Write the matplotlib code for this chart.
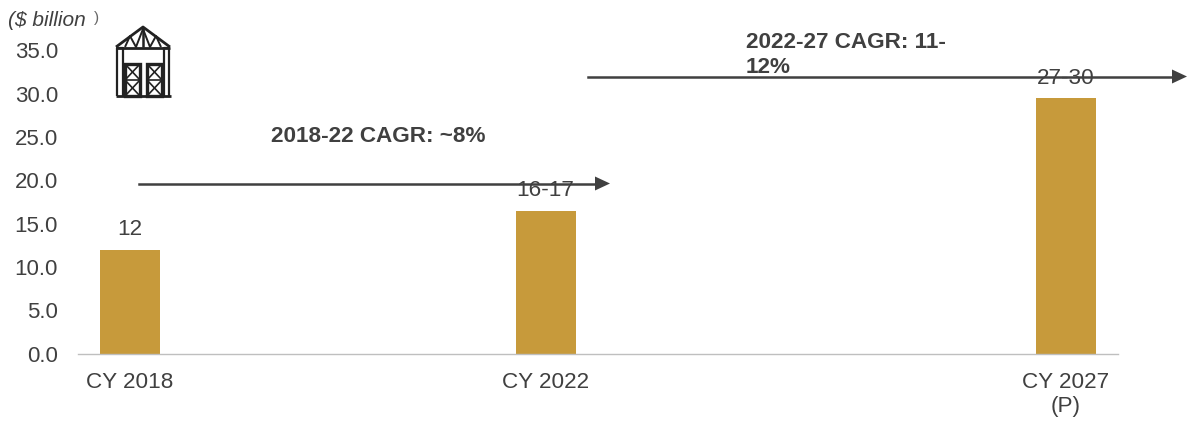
import matplotlib
matplotlib.use('Agg')
import matplotlib.pyplot as plt
from matplotlib.patches import Rectangle

plt.rcParams['font.family'] = ['Liberation Sans', 'DejaVu Sans']

W, H = 1188, 421
years = [2018, 2022, 2027]
values = [11.9, 16.5, 29.5]
bar_labels = ['12', '16-17', '27-30']
cat_labels = ['CY 2018', 'CY 2022', 'CY 2027\n(P)']
yticks = [0, 5, 10, 15, 20, 25, 30, 35]
dark = '#404040'
gold = '#C79A3B'


def fx(x):
    return x / W


def fy(y):
    return 1 - y / H


fig = plt.figure(figsize=(W / 100, H / 100), dpi=100)
ax = fig.add_axes([fx(78), fy(353.5), fx(1118 - 78), (353.5 - 50.5) / H])
ax.bar(years, values, width=0.585, color=gold)
ax.set_xlim(2017.5, 2027.5)
ax.set_ylim(0, 35)
ax.set_xticks(years)
ax.set_xticklabels(cat_labels, fontsize=16.2, color=dark, linespacing=1.22)
ax.set_yticks(yticks)
ax.set_yticklabels(['%.1f' % t for t in yticks], fontsize=16, color=dark)
ax.tick_params(axis='x', length=0, pad=13)
ax.tick_params(axis='y', length=0, pad=14.4)
for s in ['top', 'right', 'left']:
    ax.spines[s].set_visible(False)
ax.spines['bottom'].set_color('#BFBFBF')
ax.spines['bottom'].set_linewidth(1)
ax.patch.set_alpha(0)

# value labels, the arrows run through two of them
for px, py, lab in zip([129.5, 545.5, 1065.5], [229, 191, 78], bar_labels):
    fig.text(fx(px), fy(py), lab, ha='center', va='center', fontsize=16.2, color=dark)


def arrow(x0, x1, y):
    fig.add_artist(plt.Line2D([fx(x0), fx(x1 - 14)], [fy(y), fy(y)], color=dark, lw=1.8))
    fig.add_artist(plt.Polygon([[fx(x1 - 15), fy(y - 7)], [fx(x1), fy(y)], [fx(x1 - 15), fy(y + 7)]],
                               closed=True, color=dark, lw=0))


arrow(139, 610, 183.5)
arrow(588, 1187, 76.5)

fig.text(fx(271), fy(136), '2018-22 CAGR: ~8%', ha='left', va='center', fontsize=16.2,
         fontweight='bold', color=dark)
fig.text(fx(746), fy(55), '2022-27 CAGR: 11-\n12%', ha='left', va='center', fontsize=16.2,
         fontweight='bold', color=dark, linespacing=1.28)
fig.text(fx(8), fy(21), '($ billion', ha='left', va='center', fontsize=15, style='italic', color=dark)
fig.text(fx(94), fy(18), ')', ha='left', va='center', fontsize=11, color='#666666')

# warehouse icon
k = '#222222'


def seg(xs, ys, lw=1.5):
    fig.add_artist(plt.Line2D([fx(x) for x in xs], [fy(y) for y in ys], color=k, lw=lw, solid_capstyle='butt'))


seg([116, 143, 170], [47, 27, 47], 2)
seg([116, 170], [48, 48], 2)
seg([125, 130, 136, 143, 150, 156, 161], [47, 36, 47, 29, 47, 36, 47], 1.4)
seg([143, 143], [27, 47], 1.8)
seg([117, 117, 123, 123], [96, 48, 48, 96], 1.6)
seg([169, 169, 164, 164], [96, 48, 48, 96], 1.6)
seg([116, 171], [96, 96], 2)
for dx in [125, 147]:
    fig.add_artist(Rectangle((fx(dx), fy(96)), 15 / W, 32 / H, fill=False, ec=k, lw=2.4))
    for y0 in [64, 80]:
        seg([dx, dx + 15], [y0, y0 + 16], 1.2)
        seg([dx, dx + 15], [y0 + 16, y0], 1.2)
        seg([dx, dx + 15], [y0 + 16, y0 + 16], 1.2)

fig.savefig('out.png', dpi=100)
